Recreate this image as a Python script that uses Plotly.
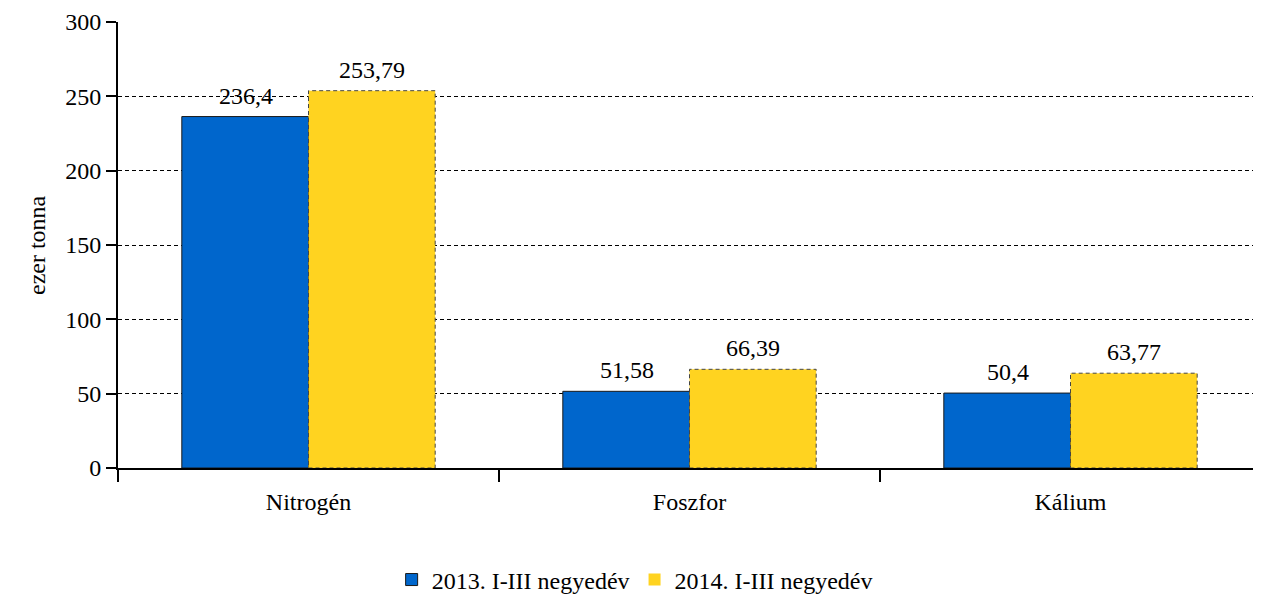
import plotly.graph_objects as go

categories = ["Nitrogén", "Foszfor", "Kálium"]
series_names = ["2013. I-III negyedév", "2014. I-III negyedév"]
values_2013 = [236.4, 51.58, 50.4]
values_2014 = [253.79, 66.39, 63.77]
label_2013 = ["236,4", "51,58", "50,4"]
label_2014 = ["253,79", "66,39", "63,77"]
y_ticks = [0, 50, 100, 150, 200, 250, 300]

FONT = "Liberation Serif"
FS = 24
BARGAP = 0.335
fig = go.Figure()
fig.add_trace(go.Bar(x=categories, y=values_2013, name=series_names[0],
                     marker=dict(color="#0066CC", line=dict(color="#1a1a1a", width=1))))
fig.add_trace(go.Bar(x=categories, y=values_2014, name=series_names[1],
                     marker=dict(color="#FFD320", line=dict(color="#FFD320", width=0))))

# dashed outline for the second series, derived from the data
half = (1 - BARGAP) / 2
for i, v in enumerate(values_2014):
    fig.add_shape(type="rect", xref="x", yref="y", x0=i, x1=i + half, y0=0, y1=v,
                  line=dict(color="#444444", width=1, dash="4px,3px"), fillcolor="rgba(0,0,0,0)")

for vals, labs, shift in ((values_2013, label_2013, -63), (values_2014, label_2014, 63)):
    for c, v, t in zip(categories, vals, labs):
        fig.add_annotation(x=c, y=v, text=t, showarrow=False, xref="x", yref="y",
                           xshift=shift, yshift=6, yanchor="bottom",
                           font=dict(family=FONT, size=FS, color="black"))

fig.add_annotation(text="ezer tonna", xref="paper", yref="paper", x=0, y=0.5,
                   xshift=-96, textangle=-90, showarrow=False,
                   font=dict(family=FONT, size=FS, color="black"))

# the page body adds an 8px offset, so the figure is 8px smaller on each axis
fig.update_layout(
    width=1253, height=590,
    margin=dict(l=110, r=0, t=14, b=130, autoexpand=False),
    paper_bgcolor="white", plot_bgcolor="white",
    barmode="group", bargap=BARGAP, bargroupgap=0,
    separators=", ",
    font=dict(family=FONT, size=FS, color="black"),
    showlegend=True,
    legend=dict(orientation="h", x=0.452, xanchor="center", y=-0.251, yanchor="middle",
                font=dict(family=FONT, size=FS), traceorder="normal"),
)
fig.update_xaxes(showline=True, linecolor="black", linewidth=2, ticks="outside",
                 tickson="boundaries", ticklen=12, tickwidth=2, tickcolor="black",
                 showgrid=False, automargin=False, ticklabelstandoff=11,
                 tickfont=dict(family=FONT, size=FS))
fig.update_yaxes(range=[0, 300], tickvals=y_ticks, showline=True, linecolor="black",
                 linewidth=2, ticks="outside", ticklen=10, tickwidth=2, tickcolor="black",
                 showgrid=True, gridcolor="black", gridwidth=1, griddash="4px,3px",
                 zeroline=False, automargin=False, tickfont=dict(family=FONT, size=FS))
fig.write_html("out.html")
